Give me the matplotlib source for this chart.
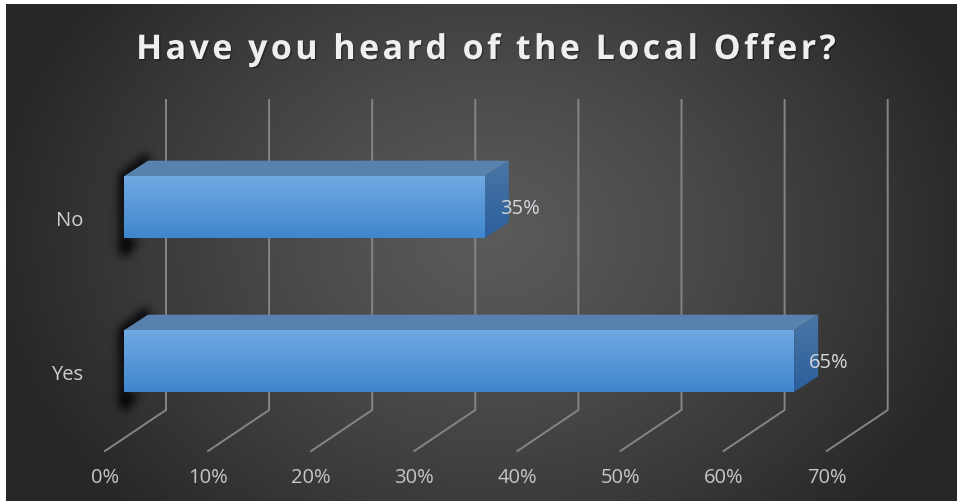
import numpy as np

import matplotlib

matplotlib.use("Agg")
import matplotlib.patheffects as pe
import matplotlib.pyplot as plt
from matplotlib.patches import Polygon
from matplotlib.path import Path

categories = ["Yes", "No"]
values = [65, 35]
value_labels = ["65%", "35%"]
tick_values = [0, 10, 20, 30, 40, 50, 60, 70]
tick_labels = ["0%", "10%", "20%", "30%", "40%", "50%", "60%", "70%"]
title = "Have you heard of the Local Offer?"

W, H = 957, 501

# horizontal scale: 1% is 10.31 px, 0% of the front plane sits at px 124
PX_PER_PCT = 10.31
X0_PX = 124
# vertical scale: one category is 154 px, "Yes" is centred on px 361
PX_PER_CAT = 154
Y0_PX = 361

BAR_H = 0.40
BAR_DX = 24 / PX_PER_PCT
BAR_DY = 15.5 / PX_PER_CAT
WALL_DX = 42 / PX_PER_PCT
FLOOR_Y = (Y0_PX - 410) / PX_PER_CAT
FRONT_DX = -61 / PX_PER_PCT
FRONT_DY = -41 / PX_PER_CAT
WALL_TOP = (Y0_PX - 100) / PX_PER_CAT

xlim = ((0 - X0_PX) / PX_PER_PCT, (W - X0_PX) / PX_PER_PCT)
ylim = ((Y0_PX - H) / PX_PER_CAT, Y0_PX / PX_PER_CAT)


def blur(a, sigma):
    r = int(3 * sigma)
    k = np.exp(-0.5 * (np.arange(-r, r + 1) / sigma) ** 2)
    k /= k.sum()
    a = np.apply_along_axis(lambda m: np.convolve(m, k, mode="same"), 0, a)
    return np.apply_along_axis(lambda m: np.convolve(m, k, mode="same"), 1, a)


def gradient_face(ax, verts, top, bottom, ymin, ymax, zorder):
    """Fill a polygon with a vertical colour gradient."""
    t = np.linspace(0, 1, 64)[:, None, None]
    img = np.array(top)[None, None, :] * (1 - t) + np.array(bottom)[None, None, :] * t
    xs = [v[0] for v in verts]
    im = ax.imshow(
        img / 255,
        extent=(min(xs), max(xs), ymin, ymax),
        origin="upper",
        aspect="auto",
        zorder=zorder,
        interpolation="bilinear",
    )
    clip = Polygon(verts, closed=True, transform=ax.transData, fc="none", ec="none")
    ax.add_patch(clip)
    im.set_clip_path(clip)


fig = plt.figure(figsize=(W / 100, H / 100), dpi=100, facecolor="white")
ax = fig.add_axes([0, 0, 1, 1])
ax.axis("off")

# dark backdrop, brightest in the middle
xx, yy = np.meshgrid(np.arange(W), np.arange(H))
r = np.sqrt(((xx - 490) / 500) ** 2 + ((yy - 235) / 400) ** 2)
shade = np.clip(0x5a - (0x5a - 0x27) * np.clip(r, 0, 1) ** 1.25, 0, 255) / 255
bg = np.dstack([shade, shade, shade])
bg[:4, :, :] = 1
bg[:, :6, :] = 1
ax.imshow(bg, extent=(*xlim, ylim[0], ylim[1]), origin="upper", aspect="auto", zorder=0)

# soft shadow along the left end of the bars
mask = np.zeros((H, W))
points = np.column_stack([xx.ravel(), yy.ravel()])
for i in range(len(categories)):
    cy = Y0_PX - i * PX_PER_CAT
    shadow = Path(
        [
            (119, cy - 33),
            (145, cy - 54),
            (151, cy - 46),
            (128, cy - 26),
            (126, cy + 31),
            (138, cy + 33),
            (126, cy + 50),
            (118, cy + 44),
        ]
    )
    mask += shadow.contains_points(points).reshape(H, W)
alpha = np.clip(blur(mask, 4.5) * 1.1, 0, 0.9)
rgba = np.dstack([np.full((H, W), 0.03), np.full((H, W), 0.03), np.full((H, W), 0.04), alpha])
ax.imshow(rgba, extent=(*xlim, ylim[0], ylim[1]), origin="upper", aspect="auto", zorder=3)

# back wall gridlines bent onto the floor
for v in tick_values:
    ax.plot(
        [v + WALL_DX, v + WALL_DX, v + WALL_DX + FRONT_DX],
        [WALL_TOP, FLOOR_Y, FLOOR_Y + FRONT_DY],
        color="#858585",
        lw=1.4,
        solid_joinstyle="miter",
        zorder=2,
    )

for v, t in zip(tick_values, tick_labels):
    ax.text(
        v + WALL_DX + FRONT_DX,
        (Y0_PX - 478) / PX_PER_CAT,
        t,
        color="#c6c6c6",
        fontsize=14.5,
        family="Open Sans",
        ha="center",
        va="center",
    )

# bars: front, top and end faces
for i, (cat, val, lab) in enumerate(zip(categories, values, value_labels)):
    lo, hi = i - BAR_H / 2, i + BAR_H / 2
    top = [(0, hi), (val, hi), (val + BAR_DX, hi + BAR_DY), (BAR_DX, hi + BAR_DY)]
    ax.add_patch(Polygon(top, closed=True, fc="#5881ad", ec="none", zorder=4))
    side = [(val, lo), (val, hi), (val + BAR_DX, hi + BAR_DY), (val + BAR_DX, lo + BAR_DY)]
    gradient_face(ax, side, (0x4a, 0x76, 0xa5), (0x2b, 0x5f, 0x9c), lo, hi + BAR_DY, 4)
    front = [(0, lo), (val, lo), (val, hi), (0, hi)]
    gradient_face(ax, front, (0x70, 0xa9, 0xe3), (0x40, 0x86, 0xcd), lo, hi, 5)

    ax.text(
        val + 15 / PX_PER_PCT,
        i - 2 / PX_PER_CAT,
        lab,
        color="#d4d8dc",
        fontsize=14.5,
        family="Open Sans",
        ha="left",
        va="center",
        zorder=6,
    )
    ax.text(
        (83 - X0_PX) / PX_PER_PCT,
        i - 14 / PX_PER_CAT,
        cat,
        color="#d0d0d0",
        fontsize=14.5,
        family="Open Sans",
        ha="right",
        va="center",
        zorder=6,
    )

# hair spaces give the title its wide tracking
ax.text(
    (485 - X0_PX) / PX_PER_PCT,
    (Y0_PX - 50) / PX_PER_CAT,
    "\u200a".join(title),
    color="#efefef",
    fontsize=24.5,
    fontweight="bold",
    family=["Open Sans", "DejaVu Sans"],
    ha="center",
    va="center",
    zorder=6,
    path_effects=[pe.withSimplePatchShadow(offset=(1, -1), alpha=0.35, shadow_rgbFace="black")],
)

ax.set_xlim(*xlim)
ax.set_ylim(*ylim)

fig.savefig("out.png", dpi=100, facecolor="white")
